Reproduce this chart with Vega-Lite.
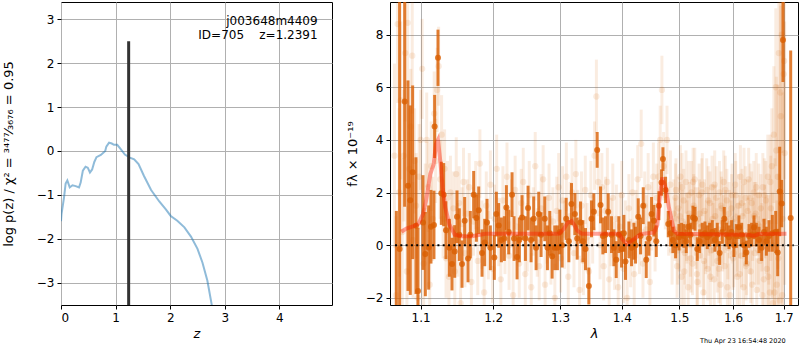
{
"$schema":"https://vega.github.io/schema/vega-lite/v6.json",
"padding":{"left":1,"top":1,"right":0,"bottom":0},
"background":"white",
"config":{"font":"DejaVu Sans","view":{"stroke":"black","strokeWidth":1},
"axis":{"domain":false,"grid":true,"gridColor":"#b0b0b0","gridWidth":1,"tickColor":"black","tickSize":4,"labelFontSize":12,"labelColor":"black","titleFontSize":13,"titleFontWeight":"normal","titleColor":"black","labelPadding":3}},
"bounds":"flush",
"spacing":58,
"hconcat":[
{"width":271,"height":303,
"layer":[
{"data":{"values":[{"z":0.0,"lp":-1.6},{"z":0.01,"lp":-1.43},{"z":0.055,"lp":-1.06},{"z":0.085,"lp":-0.74},{"z":0.116,"lp":-0.67},{"z":0.16,"lp":-0.83},{"z":0.21,"lp":-0.78},{"z":0.27,"lp":-0.8},{"z":0.33,"lp":-0.83},{"z":0.36,"lp":-0.72},{"z":0.4,"lp":-0.45},{"z":0.45,"lp":-0.36},{"z":0.49,"lp":-0.38},{"z":0.53,"lp":-0.49},{"z":0.57,"lp":-0.42},{"z":0.61,"lp":-0.25},{"z":0.65,"lp":-0.14},{"z":0.73,"lp":-0.09},{"z":0.81,"lp":0.0},{"z":0.83,"lp":0.1},{"z":0.88,"lp":0.19},{"z":0.93,"lp":0.17},{"z":0.97,"lp":0.14},{"z":1.03,"lp":0.14},{"z":1.09,"lp":0.05},{"z":1.17,"lp":-0.08},{"z":1.26,"lp":-0.15},{"z":1.34,"lp":-0.19},{"z":1.42,"lp":-0.3},{"z":1.52,"lp":-0.57},{"z":1.65,"lp":-0.89},{"z":1.8,"lp":-1.15},{"z":1.92,"lp":-1.33},{"z":2.01,"lp":-1.48},{"z":2.13,"lp":-1.59},{"z":2.26,"lp":-1.74},{"z":2.38,"lp":-1.95},{"z":2.5,"lp":-2.23},{"z":2.59,"lp":-2.54},{"z":2.68,"lp":-2.95},{"z":2.76,"lp":-3.5},{"z":2.8,"lp":-3.8}]},
"mark":{"type":"line","color":"#1f77b4","opacity":0.5,"strokeWidth":2,"clip":true},
"encoding":{"x":{"field":"z","type":"quantitative","scale":{"domain":[0,4.963],"nice":false,"zero":false},"axis":{"values":[0,1,2,3,4],"format":"d","title":"z","titleFontStyle":"italic","titlePadding":4}},
"y":{"field":"lp","type":"quantitative","scale":{"domain":[-3.508,3.394],"nice":false,"zero":false},"axis":{"values":[-3,-2,-1,0,1,2,3],"format":"d","title":"log p(z) / χ² = ³⁴⁷⁷⁄₃₆₇₆ = 0.95","titlePadding":21}}}},
{"data":{"values":[{"z":1.2391,"lp":-3.508,"hi":2.5}]},
"mark":{"type":"rule","color":"#333333","strokeWidth":3},
"encoding":{"x":{"field":"z","type":"quantitative"},"y":{"field":"lp","type":"quantitative"},"y2":{"field":"hi"}}},
{"data":{"values":[{"z":4.7,"lp":2.864,"t":"j003648m4409"},{"z":4.7,"lp":2.54,"t":"ID=705\u00a0\u00a0\u00a0\u00a0z=1.2391"}]},
"mark":{"type":"text","align":"right","baseline":"alphabetic","fontSize":12,"color":"black"},
"encoding":{"x":{"field":"z","type":"quantitative"},"y":{"field":"lp","type":"quantitative"},"text":{"field":"t"}}}
]},
{"width":408,"height":303,
"layer":[
{"data":{"name":"faint","values":[
{"l":1.066,"f":3.4,"e":3.5},{"l":1.068,"f":-1.9,"e":3.0},{"l":1.07,"f":8.4,"e":3.0},{"l":1.072,"f":2.0,"e":3.2},{"l":1.074,"f":5.5,"e":3.0},{"l":1.076,"f":0.5,"e":2.8},{"l":1.078,"f":3.4,"e":2.5},{"l":1.08,"f":7.3,"e":2.6},{"l":1.082,"f":-1.0,"e":2.5},{"l":1.083,"f":8.45,"e":2.4},{"l":1.085,"f":2.9,"e":2.3},{"l":1.087,"f":4.5,"e":2.2},{"l":1.089,"f":7.2,"e":2.2},{"l":1.09,"f":0.2,"e":2.2},{"l":1.092,"f":3.2,"e":2.0},{"l":1.094,"f":1.5,"e":2.0},{"l":1.096,"f":-2.0,"e":2.0},{"l":1.098,"f":2.6,"e":2.0},{"l":1.1,"f":4.0,"e":1.9},{"l":1.102,"f":6.7,"e":1.9},{"l":1.104,"f":-0.7,"e":1.8},{"l":1.106,"f":1.3,"e":1.8},{"l":1.108,"f":4.0,"e":1.8},{"l":1.11,"f":2.2,"e":1.7},{"l":1.112,"f":-1.5,"e":1.7},{"l":1.114,"f":3.0,"e":1.7},{"l":1.116,"f":1.0,"e":1.6},{"l":1.118,"f":5.0,"e":1.6},{"l":1.12,"f":3.2,"e":1.6},{"l":1.122,"f":5.9,"e":1.6},{"l":1.124,"f":6.8,"e":1.5},{"l":1.126,"f":2.5,"e":1.5},{"l":1.128,"f":4.2,"e":1.5},{"l":1.13,"f":1.0,"e":1.5},{"l":1.132,"f":2.9,"e":1.5},{"l":1.134,"f":-0.5,"e":1.5},{"l":1.136,"f":1.8,"e":1.4},{"l":1.138,"f":-1.2,"e":1.4},{"l":1.14,"f":2.0,"e":1.4},{"l":1.142,"f":0.6,"e":1.4},{"l":1.144,"f":1.4,"e":1.4},{"l":1.146,"f":-1.0,"e":1.4},{"l":1.148,"f":2.7,"e":1.4},{"l":1.15,"f":0.2,"e":1.4},{"l":1.152,"f":1.6,"e":1.4},{"l":1.154,"f":-2.2,"e":1.4},{"l":1.156,"f":0.8,"e":1.4},{"l":1.158,"f":2.4,"e":1.3},{"l":1.16,"f":-0.3,"e":1.3},{"l":1.163,"f":1.2,"e":1.3},{"l":1.166,"f":2.2,"e":1.3},{"l":1.169,"f":-1.4,"e":1.3},{"l":1.172,"f":0.9,"e":1.3},{"l":1.175,"f":1.9,"e":1.3},{"l":1.178,"f":-0.6,"e":1.3},{"l":1.181,"f":3.1,"e":1.3},{"l":1.184,"f":0.4,"e":1.3},{"l":1.187,"f":-1.8,"e":1.3},{"l":1.19,"f":1.5,"e":1.3},{"l":1.193,"f":0.0,"e":1.3},{"l":1.196,"f":2.3,"e":1.3},{"l":1.199,"f":-0.9,"e":1.3},{"l":1.202,"f":1.0,"e":1.3},{"l":1.205,"f":2.9,"e":1.3},{"l":1.208,"f":0.5,"e":1.3},{"l":1.211,"f":-1.3,"e":1.3},{"l":1.214,"f":1.7,"e":1.3},{"l":1.217,"f":0.2,"e":1.3},{"l":1.22,"f":2.6,"e":1.3},{"l":1.223,"f":-0.4,"e":1.3},{"l":1.226,"f":1.2,"e":1.3},{"l":1.229,"f":-1.9,"e":1.3},{"l":1.232,"f":2.1,"e":1.3},{"l":1.235,"f":0.7,"e":1.3},{"l":1.238,"f":-0.7,"e":1.3},{"l":1.241,"f":1.6,"e":1.3},{"l":1.244,"f":2.4,"e":1.3},{"l":1.247,"f":-1.1,"e":1.3},{"l":1.25,"f":0.3,"e":1.3},{"l":1.253,"f":1.9,"e":1.3},{"l":1.256,"f":-1.6,"e":1.3},{"l":1.259,"f":0.9,"e":1.3},{"l":1.262,"f":3.0,"e":1.3},{"l":1.265,"f":0.1,"e":1.3},{"l":1.268,"f":-0.8,"e":1.3},{"l":1.271,"f":1.4,"e":1.3},{"l":1.274,"f":2.5,"e":1.3},{"l":1.277,"f":-1.5,"e":1.3},{"l":1.28,"f":0.6,"e":1.3},{"l":1.283,"f":1.8,"e":1.3},{"l":1.286,"f":-0.2,"e":1.3},{"l":1.289,"f":0.9,"e":1.3},{"l":1.292,"f":-2.0,"e":1.3},{"l":1.295,"f":1.3,"e":1.3},{"l":1.298,"f":2.2,"e":1.3},{"l":1.301,"f":-0.5,"e":1.3},{"l":1.304,"f":1.7,"e":1.3},{"l":1.307,"f":0.4,"e":1.3},{"l":1.31,"f":2.6,"e":1.3},{"l":1.313,"f":-1.2,"e":1.3},{"l":1.316,"f":1.1,"e":1.3},{"l":1.319,"f":2.0,"e":1.3},{"l":1.322,"f":-0.3,"e":1.3},{"l":1.325,"f":2.7,"e":1.3},{"l":1.328,"f":0.8,"e":1.3},{"l":1.331,"f":-1.7,"e":1.3},{"l":1.334,"f":1.5,"e":1.3},{"l":1.337,"f":-0.6,"e":1.3},{"l":1.34,"f":2.1,"e":1.3},{"l":1.343,"f":0.3,"e":1.3},{"l":1.346,"f":-1.0,"e":1.3},{"l":1.349,"f":1.9,"e":1.3},{"l":1.352,"f":0.6,"e":1.3},{"l":1.355,"f":3.4,"e":1.3},{"l":1.358,"f":5.65,"e":1.4},{"l":1.361,"f":2.4,"e":1.3},{"l":1.364,"f":0.0,"e":1.3},{"l":1.367,"f":2.2,"e":1.3},{"l":1.37,"f":-0.8,"e":1.3},{"l":1.373,"f":1.3,"e":1.3},{"l":1.376,"f":2.4,"e":1.3},{"l":1.379,"f":-1.3,"e":1.3},{"l":1.382,"f":0.5,"e":1.3},{"l":1.385,"f":1.8,"e":1.3},{"l":1.388,"f":-0.4,"e":1.3},{"l":1.391,"f":1.0,"e":1.3},{"l":1.394,"f":-1.6,"e":1.3},{"l":1.397,"f":0.7,"e":1.3},{"l":1.4,"f":1.9,"e":1.3},{"l":1.403,"f":-0.9,"e":1.3},{"l":1.406,"f":0.4,"e":1.3},{"l":1.409,"f":-2.0,"e":1.3},{"l":1.412,"f":1.4,"e":1.3},{"l":1.415,"f":-0.3,"e":1.3},{"l":1.418,"f":2.0,"e":1.3},{"l":1.421,"f":-1.1,"e":1.3},{"l":1.424,"f":0.8,"e":1.3},{"l":1.427,"f":2.5,"e":1.3},{"l":1.43,"f":0.2,"e":1.3},{"l":1.433,"f":3.85,"e":1.3},{"l":1.436,"f":-0.7,"e":1.3},{"l":1.439,"f":1.5,"e":1.3},{"l":1.442,"f":0.6,"e":1.3},{"l":1.445,"f":2.2,"e":1.3},{"l":1.448,"f":-1.4,"e":1.3},{"l":1.451,"f":1.1,"e":1.3},{"l":1.454,"f":2.6,"e":1.3},{"l":1.457,"f":0.3,"e":1.3},{"l":1.46,"f":1.8,"e":1.3},{"l":1.463,"f":2.6,"e":1.3},{"l":1.466,"f":4.0,"e":1.3},{"l":1.469,"f":5.9,"e":1.3},{"l":1.472,"f":3.0,"e":1.3},{"l":1.475,"f":1.9,"e":1.3},{"l":1.478,"f":4.0,"e":1.3},{"l":1.481,"f":0.9,"e":1.3},{"l":1.484,"f":2.3,"e":1.3},{"l":1.487,"f":-0.2,"e":1.3},{"l":1.49,"f":1.2,"e":1.3},
{"l":1.492,"f":0.6,"e":1.2},{"l":1.494,"f":2.1,"e":1.2},{"l":1.496,"f":-0.8,"e":1.2},{"l":1.498,"f":1.4,"e":1.2},{"l":1.5,"f":0.2,"e":1.2},{"l":1.502,"f":2.6,"e":1.2},{"l":1.504,"f":-1.2,"e":1.2},{"l":1.506,"f":0.9,"e":1.2},{"l":1.508,"f":1.7,"e":1.2},{"l":1.51,"f":-0.3,"e":1.2},{"l":1.512,"f":2.4,"e":1.2},{"l":1.514,"f":0.5,"e":1.2},{"l":1.516,"f":-1.6,"e":1.2},{"l":1.518,"f":1.2,"e":1.2},{"l":1.52,"f":0.0,"e":1.2},{"l":1.522,"f":2.0,"e":1.2},{"l":1.524,"f":-0.7,"e":1.2},{"l":1.526,"f":1.5,"e":1.2},{"l":1.528,"f":2.5,"e":1.2},{"l":1.53,"f":0.3,"e":1.2},{"l":1.532,"f":-1.1,"e":1.2},{"l":1.534,"f":1.0,"e":1.2},{"l":1.536,"f":1.9,"e":1.2},{"l":1.538,"f":-0.4,"e":1.2},{"l":1.54,"f":0.7,"e":1.2},{"l":1.542,"f":2.3,"e":1.2},{"l":1.544,"f":-1.8,"e":1.2},{"l":1.546,"f":1.3,"e":1.2},{"l":1.548,"f":0.1,"e":1.2},{"l":1.55,"f":2.1,"e":1.2},{"l":1.552,"f":-0.9,"e":1.2},{"l":1.554,"f":0.8,"e":1.2},{"l":1.556,"f":1.6,"e":1.2},{"l":1.558,"f":-0.2,"e":1.2},{"l":1.56,"f":2.2,"e":1.2},{"l":1.562,"f":0.4,"e":1.2},{"l":1.564,"f":-1.3,"e":1.2},{"l":1.566,"f":1.1,"e":1.2},{"l":1.568,"f":1.8,"e":1.2},{"l":1.57,"f":-0.6,"e":1.2},{"l":1.572,"f":0.6,"e":1.2},{"l":1.574,"f":2.0,"e":1.2},{"l":1.576,"f":-1.5,"e":1.2},{"l":1.578,"f":1.4,"e":1.2},{"l":1.58,"f":0.2,"e":1.2},{"l":1.582,"f":2.4,"e":1.2},{"l":1.584,"f":-0.8,"e":1.2},{"l":1.586,"f":0.9,"e":1.2},{"l":1.588,"f":1.7,"e":1.2},{"l":1.59,"f":-0.1,"e":1.2},{"l":1.592,"f":1.2,"e":1.2},{"l":1.594,"f":-1.9,"e":1.2},{"l":1.596,"f":0.5,"e":1.2},{"l":1.598,"f":1.9,"e":1.2},{"l":1.6,"f":-0.5,"e":1.2},{"l":1.602,"f":1.0,"e":1.2},{"l":1.604,"f":2.3,"e":1.2},{"l":1.606,"f":0.0,"e":1.2},{"l":1.608,"f":-1.2,"e":1.2},{"l":1.61,"f":1.5,"e":1.2},{"l":1.612,"f":0.7,"e":1.2},{"l":1.614,"f":2.6,"e":1.2},{"l":1.616,"f":-0.4,"e":1.2},{"l":1.618,"f":1.1,"e":1.2},{"l":1.62,"f":-1.6,"e":1.2},{"l":1.622,"f":0.4,"e":1.2},{"l":1.624,"f":1.8,"e":1.2},{"l":1.626,"f":-0.7,"e":1.2},{"l":1.628,"f":1.3,"e":1.2},{"l":1.63,"f":2.5,"e":1.2},{"l":1.632,"f":0.1,"e":1.2},{"l":1.634,"f":-1.0,"e":1.2},{"l":1.636,"f":1.6,"e":1.2},{"l":1.638,"f":0.6,"e":1.2},{"l":1.64,"f":2.0,"e":1.2},{"l":1.642,"f":-0.3,"e":1.2},{"l":1.644,"f":1.2,"e":1.2},{"l":1.646,"f":-1.7,"e":1.2},{"l":1.648,"f":0.8,"e":1.2},{"l":1.65,"f":1.9,"e":1.2},{"l":1.652,"f":-0.6,"e":1.2},{"l":1.654,"f":1.4,"e":1.3},{"l":1.656,"f":0.3,"e":1.3},{"l":1.658,"f":2.2,"e":1.3},{"l":1.66,"f":-1.3,"e":1.4},{"l":1.662,"f":0.9,"e":1.4},{"l":1.664,"f":1.7,"e":1.5},{"l":1.666,"f":-0.9,"e":1.5},{"l":1.668,"f":2.6,"e":1.6},{"l":1.67,"f":0.2,"e":1.7},{"l":1.672,"f":-1.8,"e":1.8},{"l":1.674,"f":1.4,"e":2.0},{"l":1.676,"f":3.0,"e":2.2},{"l":1.678,"f":-2.2,"e":2.4},{"l":1.68,"f":4.2,"e":2.6},{"l":1.682,"f":0.5,"e":2.8},{"l":1.684,"f":6.0,"e":3.0},{"l":1.686,"f":-1.5,"e":3.2},{"l":1.688,"f":2.6,"e":3.5},{"l":1.69,"f":7.3,"e":3.8},{"l":1.692,"f":-2.1,"e":4.0},{"l":1.694,"f":4.9,"e":4.2},{"l":1.696,"f":8.0,"e":4.5},{"l":1.698,"f":1.0,"e":4.8},{"l":1.7,"f":6.5,"e":5.0},{"l":1.702,"f":3.5,"e":5.0},
{"l":1.493,"f":1.8,"e":1.3},{"l":1.497,"f":-0.2,"e":1.3},{"l":1.501,"f":1.1,"e":1.3},{"l":1.505,"f":2.2,"e":1.3},{"l":1.509,"f":-1.0,"e":1.3},{"l":1.513,"f":0.7,"e":1.3},{"l":1.517,"f":1.9,"e":1.3},{"l":1.521,"f":-0.5,"e":1.3},{"l":1.525,"f":2.4,"e":1.3},{"l":1.529,"f":0.9,"e":1.3},{"l":1.533,"f":-1.4,"e":1.3},{"l":1.537,"f":1.2,"e":1.3},{"l":1.541,"f":2.0,"e":1.3},{"l":1.545,"f":-0.6,"e":1.3},{"l":1.549,"f":0.4,"e":1.3},{"l":1.553,"f":1.7,"e":1.3},{"l":1.557,"f":-1.2,"e":1.3},{"l":1.561,"f":1.0,"e":1.3},{"l":1.565,"f":2.3,"e":1.3},{"l":1.569,"f":0.1,"e":1.3},{"l":1.573,"f":-0.9,"e":1.3},{"l":1.577,"f":1.5,"e":1.3},{"l":1.581,"f":0.6,"e":1.3},{"l":1.585,"f":2.1,"e":1.3},{"l":1.589,"f":-1.6,"e":1.3},{"l":1.593,"f":0.8,"e":1.3},{"l":1.597,"f":1.4,"e":1.3},{"l":1.601,"f":-0.3,"e":1.3},{"l":1.605,"f":1.9,"e":1.3},{"l":1.609,"f":0.3,"e":1.3},{"l":1.613,"f":-1.1,"e":1.3},{"l":1.617,"f":1.6,"e":1.3},{"l":1.621,"f":2.4,"e":1.3},{"l":1.625,"f":-0.8,"e":1.3},{"l":1.629,"f":0.5,"e":1.3},{"l":1.633,"f":1.8,"e":1.3},{"l":1.637,"f":-1.5,"e":1.3},{"l":1.641,"f":1.1,"e":1.3},{"l":1.645,"f":2.2,"e":1.3},{"l":1.649,"f":-0.2,"e":1.3},{"l":1.653,"f":0.7,"e":1.3},{"l":1.657,"f":-1.9,"e":1.4},{"l":1.661,"f":1.9,"e":1.4},{"l":1.665,"f":0.4,"e":1.5},{"l":1.669,"f":-1.2,"e":1.6},{"l":1.673,"f":2.4,"e":1.8},{"l":1.677,"f":0.0,"e":2.0},{"l":1.681,"f":-1.8,"e":2.4},{"l":1.685,"f":3.6,"e":2.8},{"l":1.689,"f":-0.5,"e":3.2},{"l":1.693,"f":5.8,"e":3.6},{"l":1.697,"f":-1.9,"e":4.0},{"l":1.701,"f":7.0,"e":4.5}
]},
"mark":{"type":"errorbar","color":"#d95f02","opacity":0.12,"thickness":3,"clip":true},
"encoding":{"x":{"field":"l","type":"quantitative","title":"λ","scale":{"type":"log","domain":[1.0603,1.7294],"nice":false,"zero":false},"axis":{"values":[1.1,1.2,1.3,1.4,1.5,1.6,1.7],"format":".1f","titleFontStyle":"italic","titlePadding":4}},
"y":{"field":"f","type":"quantitative","title":"fλ × 10⁻¹⁹","scale":{"domain":[-2.274,9.24],"nice":false,"zero":false},"axis":{"values":[-2,0,2,4,6,8],"format":"d","titlePadding":6}},
"yError":{"field":"e"}}},
{"data":{"name":"faint"},
"mark":{"type":"circle","color":"#d95f02","opacity":0.12,"size":40,"clip":true},
"encoding":{"x":{"field":"l","type":"quantitative","title":"λ"},"y":{"field":"f","type":"quantitative","title":"fλ × 10⁻¹⁹"}}},
{"data":{"name":"bold","values":[
{"l":1.0684,"f":-3.0,"e":4.3},{"l":1.0726,"f":-0.15,"e":9.5},{"l":1.0791,"f":5.46,"e":4.0},{"l":1.0834,"f":2.26,"e":4.0},{"l":1.0864,"f":1.71,"e":3.6},{"l":1.0895,"f":2.77,"e":3.3},{"l":1.0938,"f":0.74,"e":2.6},{"l":1.0965,"f":-1.74,"e":2.4},{"l":1.1031,"f":0.86,"e":1.8},{"l":1.1062,"f":-0.34,"e":1.6},{"l":1.1106,"f":-0.09,"e":1.6},{"l":1.1137,"f":0.7,"e":1.4},{"l":1.1177,"f":0.77,"e":1.3},{"l":1.1186,"f":4.51,"e":1.2},{"l":1.1231,"f":7.12,"e":1.07},{"l":1.1276,"f":1.97,"e":1.2},{"l":1.1308,"f":1.92,"e":1.2},{"l":1.1339,"f":0.57,"e":1.1},{"l":1.1385,"f":-0.1,"e":1.1},{"l":1.1421,"f":-0.72,"e":1.0},{"l":1.1458,"f":-0.24,"e":1.0},{"l":1.149,"f":1.08,"e":1.0},{"l":1.1522,"f":0.4,"e":1.0},{"l":1.1559,"f":-0.72,"e":0.9},{"l":1.1596,"f":0.93,"e":0.9},{"l":1.1643,"f":-0.51,"e":0.9},{"l":1.1675,"f":0.4,"e":0.9},{"l":1.1722,"f":1.92,"e":0.9},{"l":1.176,"f":1.03,"e":0.9},{"l":1.1793,"f":1.33,"e":0.9},{"l":1.184,"f":-0.3,"e":0.9},{"l":1.1878,"f":0.1,"e":0.9},{"l":1.1911,"f":0.86,"e":0.9},{"l":1.1959,"f":-0.1,"e":0.85},{"l":1.2016,"f":-0.47,"e":0.85},{"l":1.2045,"f":1.18,"e":0.85},{"l":1.2079,"f":0.75,"e":0.85},{"l":1.2118,"f":0.2,"e":0.85},{"l":1.2161,"f":0.25,"e":0.85},{"l":1.2191,"f":1.43,"e":0.85},{"l":1.2225,"f":0.5,"e":0.85},{"l":1.2274,"f":1.92,"e":0.85},{"l":1.2303,"f":0.25,"e":0.85},{"l":1.2348,"f":-0.45,"e":0.85},{"l":1.2382,"f":0.2,"e":0.85},{"l":1.2422,"f":1.05,"e":0.85},{"l":1.2472,"f":0.25,"e":0.85},{"l":1.2512,"f":1.41,"e":0.85},{"l":1.2557,"f":0.2,"e":0.85},{"l":1.2597,"f":1.0,"e":0.85},{"l":1.2633,"f":-0.1,"e":0.85},{"l":1.2673,"f":1.18,"e":0.85},{"l":1.2709,"f":0.4,"e":0.85},{"l":1.2765,"f":1.0,"e":0.85},{"l":1.2806,"f":-0.1,"e":0.85},{"l":1.2842,"f":0.45,"e":0.85},{"l":1.2878,"f":-0.42,"e":0.85},{"l":1.2919,"f":-0.1,"e":0.85},{"l":1.296,"f":-0.1,"e":0.85},{"l":1.2997,"f":0.5,"e":0.85},{"l":1.3034,"f":0.0,"e":0.85},{"l":1.3097,"f":1.0,"e":0.8},{"l":1.3139,"f":0.15,"e":0.8},{"l":1.3181,"f":1.56,"e":0.8},{"l":1.3234,"f":1.18,"e":0.8},{"l":1.3271,"f":0.25,"e":0.8},{"l":1.3324,"f":0.86,"e":0.8},{"l":1.3362,"f":0.15,"e":0.8},{"l":1.3404,"f":-0.15,"e":0.8},{"l":1.3458,"f":-1.55,"e":0.7},{"l":1.3501,"f":1.0,"e":0.7},{"l":1.3539,"f":1.27,"e":0.7},{"l":1.3593,"f":3.62,"e":0.68},{"l":1.3648,"f":1.53,"e":0.7},{"l":1.3686,"f":0.35,"e":0.7},{"l":1.373,"f":0.4,"e":0.7},{"l":1.3774,"f":1.27,"e":0.7},{"l":1.3829,"f":0.4,"e":0.7},{"l":1.3868,"f":-0.1,"e":0.7},{"l":1.3907,"f":-0.55,"e":0.7},{"l":1.3951,"f":0.4,"e":0.7},{"l":1.3996,"f":-0.15,"e":0.7},{"l":1.4035,"f":0.45,"e":0.7},{"l":1.4063,"f":-0.62,"e":0.7},{"l":1.412,"f":0.2,"e":0.7},{"l":1.4165,"f":-0.1,"e":0.7},{"l":1.4205,"f":0.15,"e":0.7},{"l":1.4233,"f":0.0,"e":0.7},{"l":1.4279,"f":1.08,"e":0.7},{"l":1.4319,"f":0.35,"e":0.7},{"l":1.4365,"f":1.5,"e":0.7},{"l":1.4417,"f":-0.55,"e":0.7},{"l":1.4463,"f":0.25,"e":0.65},{"l":1.4509,"f":1.18,"e":0.65},{"l":1.455,"f":0.93,"e":0.6},{"l":1.4591,"f":0.15,"e":0.6},{"l":1.4637,"f":1.5,"e":0.55},{"l":1.4684,"f":2.38,"e":0.5},{"l":1.4708,"f":3.27,"e":0.45},{"l":1.4755,"f":2.1,"e":0.5},{"l":1.4802,"f":0.8,"e":0.5},{"l":1.4844,"f":0.45,"e":0.5},{"l":1.4885,"f":0.2,"e":0.5},{"l":1.4933,"f":0.0,"e":0.5},{"l":1.4993,"f":0.3,"e":0.5},{"l":1.5041,"f":0.4,"e":0.45},{"l":1.5083,"f":0.35,"e":0.45},{"l":1.5125,"f":0.15,"e":0.45},{"l":1.5162,"f":0.7,"e":0.45},{"l":1.5204,"f":0.4,"e":0.45},{"l":1.5247,"f":1.05,"e":0.45},{"l":1.5284,"f":1.0,"e":0.45},{"l":1.5327,"f":-0.15,"e":0.45},{"l":1.537,"f":0.15,"e":0.45},{"l":1.5419,"f":0.4,"e":0.45},{"l":1.5468,"f":0.45,"e":0.45},{"l":1.5512,"f":0.3,"e":0.45},{"l":1.5555,"f":0.4,"e":0.45},{"l":1.5605,"f":0.5,"e":0.45},{"l":1.5655,"f":0.2,"e":0.45},{"l":1.5699,"f":0.4,"e":0.45},{"l":1.5743,"f":-0.3,"e":0.45},{"l":1.5793,"f":0.5,"e":0.45},{"l":1.5831,"f":1.0,"e":0.45},{"l":1.5876,"f":0.4,"e":0.45},{"l":1.592,"f":0.3,"e":0.45},{"l":1.5971,"f":0.5,"e":0.45},{"l":1.6016,"f":0.0,"e":0.45},{"l":1.6061,"f":0.35,"e":0.45},{"l":1.6112,"f":0.68,"e":0.45},{"l":1.6164,"f":0.4,"e":0.45},{"l":1.6209,"f":0.0,"e":0.45},{"l":1.6255,"f":-0.28,"e":0.45},{"l":1.6307,"f":0.35,"e":0.45},{"l":1.6359,"f":0.4,"e":0.45},{"l":1.6405,"f":0.68,"e":0.45},{"l":1.6451,"f":0.4,"e":0.45},{"l":1.6504,"f":0.2,"e":0.5},{"l":1.6557,"f":-0.1,"e":0.5},{"l":1.6603,"f":0.5,"e":0.5},{"l":1.665,"f":0.15,"e":0.55},{"l":1.6703,"f":0.35,"e":0.6},{"l":1.677,"f":0.45,"e":0.7},{"l":1.6838,"f":0.5,"e":0.8},{"l":1.6878,"f":-0.28,"e":0.9},{"l":1.6919,"f":2.04,"e":1.7},{"l":1.6959,"f":1.58,"e":0.9},{"l":1.6985,"f":7.8,"e":1.6},{"l":1.7143,"f":1.03,"e":6.37}
]},
"mark":{"type":"errorbar","color":"#d95f02","opacity":0.8,"thickness":3,"clip":true},
"encoding":{"x":{"field":"l","type":"quantitative","title":"λ"},"y":{"field":"f","type":"quantitative","title":"fλ × 10⁻¹⁹"},"yError":{"field":"e"}}},
{"data":{"name":"bold"},
"mark":{"type":"circle","color":"#d95f02","opacity":0.8,"size":36,"clip":true},
"encoding":{"x":{"field":"l","type":"quantitative","title":"λ"},"y":{"field":"f","type":"quantitative","title":"fλ × 10⁻¹⁹"}}},
{"data":{"values":[{"l":1.0748,"f":0.51},{"l":1.0813,"f":0.63},{"l":1.0908,"f":0.72},{"l":1.0974,"f":0.82},{"l":1.1031,"f":1.18},{"l":1.1071,"f":1.68},{"l":1.1128,"f":2.7},{"l":1.1173,"f":3.07},{"l":1.1204,"f":3.84},{"l":1.1231,"f":4.0},{"l":1.1262,"f":3.2},{"l":1.1294,"f":2.19},{"l":1.133,"f":1.43},{"l":1.1385,"f":0.79},{"l":1.1458,"f":0.4},{"l":1.1559,"f":0.34},{"l":1.1698,"f":0.34},{"l":1.1887,"f":0.43},{"l":1.2522,"f":0.43},{"l":1.2987,"f":0.43},{"l":1.306,"f":0.62},{"l":1.312,"f":0.85},{"l":1.3181,"f":0.92},{"l":1.323,"f":0.75},{"l":1.3271,"f":0.55},{"l":1.335,"f":0.43},{"l":1.3951,"f":0.43},{"l":1.402,"f":0.2},{"l":1.4092,"f":0.04},{"l":1.4205,"f":0.23},{"l":1.4319,"f":0.42},{"l":1.455,"f":0.48},{"l":1.461,"f":0.77},{"l":1.4646,"f":1.68},{"l":1.4696,"f":2.57},{"l":1.4755,"f":2.2},{"l":1.4814,"f":1.43},{"l":1.4904,"f":0.55},{"l":1.4963,"f":0.43},{"l":1.63,"f":0.4},{"l":1.64,"f":0.35},{"l":1.65,"f":0.42},{"l":1.7056,"f":0.43}]},
"mark":{"type":"line","color":"#ff1a00","opacity":0.4,"strokeWidth":4,"clip":true},
"encoding":{"x":{"field":"l","type":"quantitative","title":"λ"},"y":{"field":"f","type":"quantitative","title":"fλ × 10⁻¹⁹"}}},
{"data":{"values":[{"l":1.0667,"l2":1.7205,"f":0}]},
"mark":{"type":"rule","color":"black","strokeWidth":2,"strokeDash":[2,3.3]},
"encoding":{"x":{"field":"l","type":"quantitative","title":"λ"},"x2":{"field":"l2"},"y":{"field":"f","type":"quantitative","title":"fλ × 10⁻¹⁹"}}},
{"data":{"values":[{"l":1.704,"f":-3.72,"t":"Thu Apr 23 16:54:48 2020"}]},
"mark":{"type":"text","align":"right","baseline":"alphabetic","fontSize":6.5,"color":"black"},
"encoding":{"x":{"field":"l","type":"quantitative","title":"λ"},"y":{"field":"f","type":"quantitative","title":"fλ × 10⁻¹⁹"},"text":{"field":"t"}}}
]}
]}
